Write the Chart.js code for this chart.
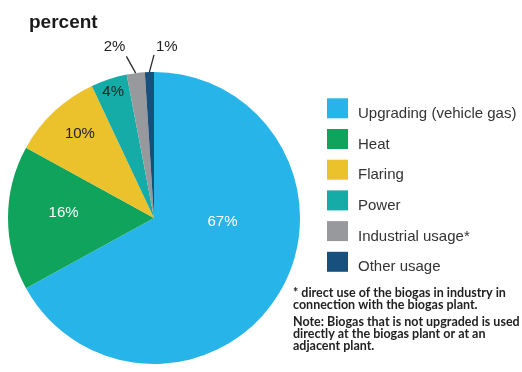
<!DOCTYPE html>
<html>
<head>
<meta charset="utf-8">
<script src="https://cdn.jsdelivr.net/npm/chart.js@4/dist/chart.umd.min.js"></script>
<style>
  html, body { margin: 0; padding: 0; background: #ffffff; }
  #wrap { width: 522px; height: 372px; }
</style>
</head>
<body>
<div id="wrap"><canvas id="c" width="522" height="372"></canvas></div>
<script>
// Biogas usage by purpose, percent
const categories = ['Upgrading (vehicle gas)', 'Heat', 'Flaring', 'Power', 'Industrial usage*', 'Other usage'];
const shares = [67, 16, 10, 4, 2, 1];
const sliceColors = ['#27b4e8', '#0fa35b', '#ebc22b', '#15aba6', '#97999c', '#17507c'];
const chartTitle = 'percent';
const footnoteLines = [
  ['* direct use of the biogas in industry in', 'connection with the biogas plant.'],
  ['Note: Biogas that is not upgraded is used', 'directly at the biogas plant or at an', 'adjacent plant.']
];

// Where each value label sits: fraction of the outer radius and an angular nudge (degrees).
// Outside labels get a leader line back to the slice edge.
const labelPlacement = [
  { r: 0.47, shift: -27, color: '#ffffff' },
  { r: 0.62, shift: 3, color: '#ffffff' },
  { r: 0.77, shift: 2, color: '#222222' },
  { r: 0.905, shift: 0, color: '#222222' },
  { r: 1.2, shift: -5.8, color: '#222222', leader: { r: 1.123, shift: -2.5 } },
  { r: 1.175, shift: 6.1, color: '#222222', leader: { r: 1.117, shift: 1.8 } }
];

const deg = Math.PI / 180;

const annotations = {
  id: 'annotations',
  afterDatasetsDraw(chart) {
    const ctx = chart.ctx;
    const meta = chart.getDatasetMeta(0);
    ctx.save();
    // value labels
    meta.data.forEach((arc, i) => {
      const p = arc.getProps(['x', 'y', 'startAngle', 'endAngle', 'outerRadius'], true);
      const mid = (p.startAngle + p.endAngle) / 2;
      const pl = labelPlacement[i];
      const a = mid + pl.shift * deg;
      const lx = p.x + Math.cos(a) * p.outerRadius * pl.r;
      const ly = p.y + Math.sin(a) * p.outerRadius * pl.r;
      if (pl.leader) {
        const la = mid + pl.leader.shift * deg;
        ctx.beginPath();
        ctx.moveTo(p.x + Math.cos(la) * p.outerRadius * pl.leader.r,
                   p.y + Math.sin(la) * p.outerRadius * pl.leader.r);
        ctx.lineTo(p.x + Math.cos(mid) * p.outerRadius, p.y + Math.sin(mid) * p.outerRadius);
        ctx.strokeStyle = '#2a2a2a';
        ctx.lineWidth = 1.3;
        ctx.stroke();
      }
      ctx.font = '15px "Liberation Sans", Arial, sans-serif';
      ctx.fillStyle = pl.color;
      ctx.textAlign = 'center';
      ctx.textBaseline = 'middle';
      ctx.fillText(shares[i] + '%', lx, ly);
    });
    ctx.restore();
  },
  afterDraw(chart) {
    const ctx = chart.ctx;
    ctx.save();
    // heading
    ctx.font = 'bold 19px "Liberation Sans", Arial, sans-serif';
    ctx.fillStyle = '#1a1a1a';
    ctx.textAlign = 'left';
    ctx.textBaseline = 'alphabetic';
    ctx.fillText(chartTitle, 29, 28);

    // legend
    const lx = 327, ly = 98.3, step = 30.7;
    categories.forEach((name, i) => {
      const y = ly + i * step;
      ctx.fillStyle = sliceColors[i];
      ctx.fillRect(lx, y, 21, 20);
      ctx.font = '15px "Liberation Sans", Arial, sans-serif';
      ctx.fillStyle = '#333333';
      ctx.fillText(name, 358, y + 19.5);
    });

    // footnotes
    ctx.font = 'bold 12.5px Lato, sans-serif';
    ctx.fillStyle = '#222222';
    let y = 297;
    footnoteLines.forEach((block, b) => {
      if (b > 0) y += 5;
      block.forEach(line => {
        ctx.fillText(line, 293, y);
        y += 12;
      });
    });
    ctx.restore();
  }
};

new Chart(document.getElementById('c'), {
  type: 'pie',
  data: {
    labels: categories,
    datasets: [{
      data: shares,
      backgroundColor: sliceColors,
      borderWidth: 0
    }]
  },
  options: {
    responsive: false,
    animation: false,
    layout: { padding: { left: 8, right: 222, top: 72, bottom: 8 } },
    plugins: {
      legend: { display: false },
      tooltip: { enabled: false }
    }
  },
  plugins: [annotations]
});
</script>
</body>
</html>
